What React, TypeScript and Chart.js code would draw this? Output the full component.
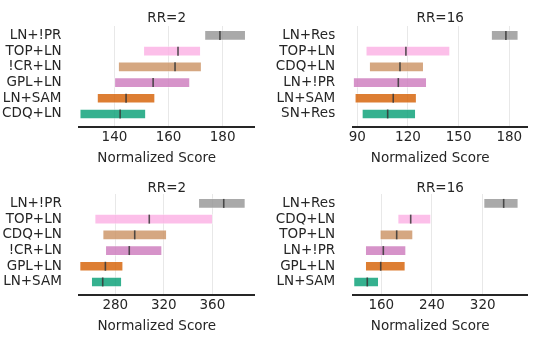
import React, { useEffect, useRef } from "react";
import { Chart, registerables } from "chart.js";

Chart.register(...registerables);

// Row colours (top to bottom), same in every panel
const rowColors = ["#949494", "#fbafe4", "#ca9161", "#cc78bc", "#d55e00", "#029e73"];

// Panel A: RR=2 (top-left)
const labelsA = ["LN+!PR", "TOP+LN", "!CR+LN", "GPL+LN", "LN+SAM", "CDQ+LN"];
const lowA = [173.3, 150.7, 141.4, 140.0, 133.6, 127.2];
const highA = [188.5, 171.9, 172.2, 167.9, 155.0, 151.6];
const medA = [179.0, 163.5, 162.4, 154.3, 144.3, 142.1];
const ticksA = [140, 160, 180];
const rangeA = [126.9, 191.7];

// Panel B: RR=16 (top-right)
const labelsB = ["LN+Res", "TOP+LN", "CDQ+LN", "LN+!PR", "LN+SAM", "SN+Res"];
const lowB = [169.3, 95.1, 97.1, 87.6, 88.6, 92.8];
const highB = [185.3, 144.9, 129.3, 131.1, 125.1, 124.6];
const medB = [178.0, 118.8, 115.3, 114.3, 111.3, 108.0];
const ticksB = [90, 120, 150, 180];
const rangeB = [87.3, 190.9];

// Panel C: RR=2 (bottom-left)
const labelsC = ["LN+!PR", "TOP+LN", "CDQ+LN", "!CR+LN", "GPL+LN", "LN+SAM"];
const lowC = [348.5, 263.0, 269.6, 271.8, 250.6, 260.2];
const highC = [387.2, 360.3, 322.4, 318.5, 286.4, 285.3];
const medC = [369.4, 308.0, 296.0, 291.5, 271.8, 269.6];
const ticksC = [280, 320, 360];
const rangeC = [250.3, 394.6];

// Panel D: RR=16 (bottom-right)
const labelsD = ["LN+Res", "CDQ+LN", "TOP+LN", "LN+!PR", "GPL+LN", "LN+SAM"];
const lowD = [321.5, 185.9, 157.9, 134.8, 134.8, 116.3];
const highD = [376.1, 238.4, 210.0, 199.0, 197.9, 155.9];
const medD = [353.1, 206.4, 184.3, 163.2, 159.1, 137.9];
const ticksD = [160, 240, 320];
const rangeD = [114.9, 391];

const xTitle = "Normalized Score";
const FONT = "DejaVu Sans";
const TEXT = "#262626";

function rgba(hex: string, a: number) {
  const n = parseInt(hex.slice(1), 16);
  return `rgba(${(n >> 16) & 255},${(n >> 8) & 255},${n & 255},${a})`;
}

type PanelCfg = {
  title: string;
  labels: string[];
  low: number[];
  high: number[];
  med: number[];
  ticks: number[];
  range: number[];
  x: number;
  y: number;
  w: number;
  h: number;
  areaLeft: number;
  areaRight: number;
  titleY: number;
};

const AREA_TOP = 26;
const AREA_BOTTOM = 127;

function Panel({ cfg }: { cfg: PanelCfg }) {
  const ref = useRef<HTMLCanvasElement>(null);
  useEffect(() => {
    const extras = {
      id: "extras",
      afterDatasetsDraw(chart: any) {
        const ctx = chart.ctx;
        const xs = chart.scales.x;
        const meta = chart.getDatasetMeta(0);
        ctx.save();
        ctx.strokeStyle = "rgba(55,55,55,0.85)";
        ctx.lineWidth = 1.6;
        meta.data.forEach((bar: any, i: number) => {
          const px = xs.getPixelForValue(cfg.med[i]);
          ctx.beginPath();
          ctx.moveTo(px, bar.y - 4.5);
          ctx.lineTo(px, bar.y + 4.5);
          ctx.stroke();
        });
        ctx.restore();
      },
      afterDraw(chart: any) {
        const ctx = chart.ctx;
        const a = chart.chartArea;
        ctx.save();
        ctx.fillStyle = TEXT;
        ctx.font = `13.5px "${FONT}"`;
        ctx.textAlign = "center";
        ctx.textBaseline = "alphabetic";
        ctx.fillText(cfg.title, (a.left + a.right) / 2, cfg.titleY);
        ctx.fillText(xTitle, (a.left + a.right) / 2 - 10, a.bottom + 35.3);
        ctx.restore();
      },
    };

    const chart = new Chart(ref.current as HTMLCanvasElement, {
      type: "bar",
      data: {
        datasets: [
          {
            data: cfg.low.map((l, i) => ({ x: [l, cfg.high[i]], y: i })) as any,
            backgroundColor: rowColors.map((c) => rgba(c, 0.8)),
            borderColor: "rgba(255,255,255,0.35)",
            borderWidth: 1,
            borderSkipped: false,
            barThickness: 10,
          },
        ],
      },
      options: {
        indexAxis: "y",
        responsive: false,
        animation: false,
        devicePixelRatio: 1,
        layout: {
          padding: {
            top: AREA_TOP,
            left: 0,
            right: cfg.w - cfg.areaRight,
            bottom: 0,
          },
        },
        plugins: {
          legend: { display: false },
          title: { display: false },
          tooltip: { enabled: false },
        },
        scales: {
          y: {
            type: "linear",
            reverse: true,
            offset: false,
            min: -0.6,
            max: 5.83,
            grid: { display: false, offset: false },
            border: { display: false },
            afterBuildTicks: (axis: any) => {
              axis.ticks = cfg.labels.map((_, i) => ({ value: i }));
            },
            afterFit: (axis: any) => {
              axis.width = cfg.areaLeft;
              axis.paddingTop = 0;
              axis.paddingBottom = 0;
            },
            ticks: {
              autoSkip: false,
              padding: 9.5,
              color: TEXT,
              font: { family: FONT, size: 13.5 },
              callback: (v: any) => cfg.labels[v as number] ?? "",
            },
          },
          x: {
            type: "linear",
            offset: false,
            min: cfg.range[0],
            max: cfg.range[1],
            afterBuildTicks: (axis: any) => {
              axis.ticks = cfg.ticks.map((v) => ({ value: v }));
            },
            afterFit: (axis: any) => {
              axis.height = cfg.h - AREA_BOTTOM;
              axis.paddingLeft = 0;
              axis.paddingRight = 0;
            },
            grid: {
              color: "#e8e8e8",
              lineWidth: 1,
              drawTicks: false,
              offset: false,
            },
            border: { display: true, color: TEXT, width: 2 },
            ticks: {
              autoSkip: false,
              padding: 2,
              color: TEXT,
              font: { family: FONT, size: 13.5 },
              maxRotation: 0,
            },
          },
        },
      },
      plugins: [extras],
    } as any);
    return () => chart.destroy();
  }, []);
  return (
    <canvas
      ref={ref}
      width={cfg.w}
      height={cfg.h}
      style={{ position: "absolute", left: cfg.x, top: cfg.y, width: cfg.w, height: cfg.h }}
    />
  );
}

const panels: PanelCfg[] = [
  { title: "RR=2", labels: labelsA, low: lowA, high: highA, med: medA, ticks: ticksA, range: rangeA,
    x: 0, y: 0, w: 270, h: 168, areaLeft: 79, areaRight: 254.3, titleY: 22 },
  { title: "RR=16", labels: labelsB, low: lowB, high: highB, med: medB, ticks: ticksB, range: rangeB,
    x: 270, y: 0, w: 269, h: 168, areaLeft: 82.7, areaRight: 257.7, titleY: 22 },
  { title: "RR=2", labels: labelsC, low: lowC, high: highC, med: medC, ticks: ticksC, range: rangeC,
    x: 0, y: 168, w: 270, h: 173, areaLeft: 79.3, areaRight: 254.3, titleY: 24 },
  { title: "RR=16", labels: labelsD, low: lowD, high: highD, med: medD, ticks: ticksD, range: rangeD,
    x: 270, y: 168, w: 269, h: 173, areaLeft: 82.7, areaRight: 257.7, titleY: 24 },
];

export default function App() {
  return (
    <div
      style={{
        position: "fixed",
        left: 0,
        top: 0,
        width: 539,
        height: 341,
        background: "#fff",
        overflow: "hidden",
      }}
    >
      {panels.map((p, i) => (
        <Panel key={i} cfg={p} />
      ))}
    </div>
  );
}
